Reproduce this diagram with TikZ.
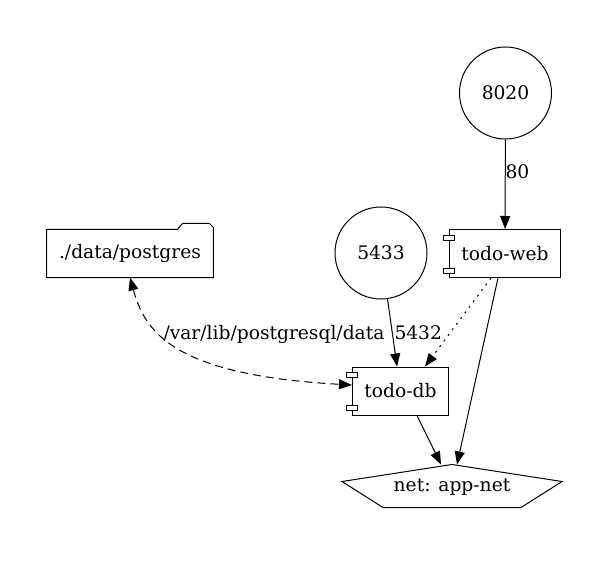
\documentclass[tikz,border=0pt]{standalone}
\usepackage{fontspec}
\setmainfont{DejaVu Serif}
\usetikzlibrary{arrows.meta}

\begin{document}
\begin{tikzpicture}[
    x=0.5pt, y=-0.5pt,
    font=\fontsize{9.33}{11}\selectfont,
    line width=0.5pt,
    pub/.style={
        draw, circle, minimum size=46pt, inner sep=0pt
    },
    svc/.style={
        draw, rectangle, inner xsep=6pt,
        minimum height=24pt
    },
    lug/.style={draw, fill=white, line width=0.4pt},
    vol/.style={
        rectangle, inner xsep=6pt, minimum height=23.5pt
    },
    netw/.style={
        rectangle, inner sep=0pt, minimum height=22pt
    },
    lbl/.style={anchor=west, inner sep=0pt},
    edge/.style={-{Triangle[length=6.5pt,width=5pt]}},
    depedge/.style={-{Triangle[length=6.5pt,width=5pt]}, dash pattern=on 1pt off 2.5pt},
    mountedge/.style={{Triangle[length=6.5pt,width=5pt]}-{Triangle[length=6.5pt,width=5pt]}, dash pattern=on 4pt off 2.5pt}
]
\useasboundingbox (0,0) rectangle (610,561);

% 1. Published ports
\node[pub] (p8020) at (505.5,93) {8020};
\node[pub] (p5433) at (381,253) {5433};

% 2. Services
\node[svc] (web) at (505,253.5) {todo-web};
\node[svc] (db) at (400.5,391) {todo-db};
\draw[lug] ([xshift=-2.75pt,yshift=-3pt]web.north west) rectangle ++(11,5);
\draw[lug] ([xshift=-2.75pt,yshift=2.5pt]web.south west) rectangle ++(11,-5);
\draw[lug] ([xshift=-2.75pt,yshift=-3pt]db.north west) rectangle ++(11,5);
\draw[lug] ([xshift=-2.75pt,yshift=2.5pt]db.south west) rectangle ++(11,-5);

% 3. Volume
\node[vol] (pgdata) at (130,253.5) {./data/postgres};
\draw (pgdata.south west) -- (pgdata.north west) -- ([xshift=-18pt]pgdata.north east)
    -- ++(5,-6) -- ++(27,0) -- ++(4,4) -- (pgdata.south east) -- cycle;

% 4. Network
\node[netw] (appnet) at (452,487) {net: app-net};
\draw (appnet.north) -- ++(-110,17) -- ++(41,26) -- ++(138,0) -- ++(41,-26) -- cycle;

% Ports
\draw[edge] (p8020) -- (web);
\node[lbl] (l80) at (505,172) {80};
\draw[edge] (p5433) -- (db);
\node[lbl] (l5432) at (394,333) {5432};

% depends_on
\draw[depedge] ([xshift=-7pt]web.south) -- ([xshift=12.25pt]db.north);

% Volume mount
\draw[mountedge] (pgdata.south) .. controls +(15,55) and +(-178,-10) .. ([yshift=3pt]db.west);
\node[lbl] (lmount) at (163,334) {/var/lib/postgresql/data};

% Networks
\draw[edge] ([xshift=-3.5pt]web.south) -- ([xshift=2.5pt]appnet.north);
\draw[edge] ([xshift=8.25pt]db.south) -- ([xshift=-5.5pt]appnet.north);

\end{tikzpicture}
\end{document}
